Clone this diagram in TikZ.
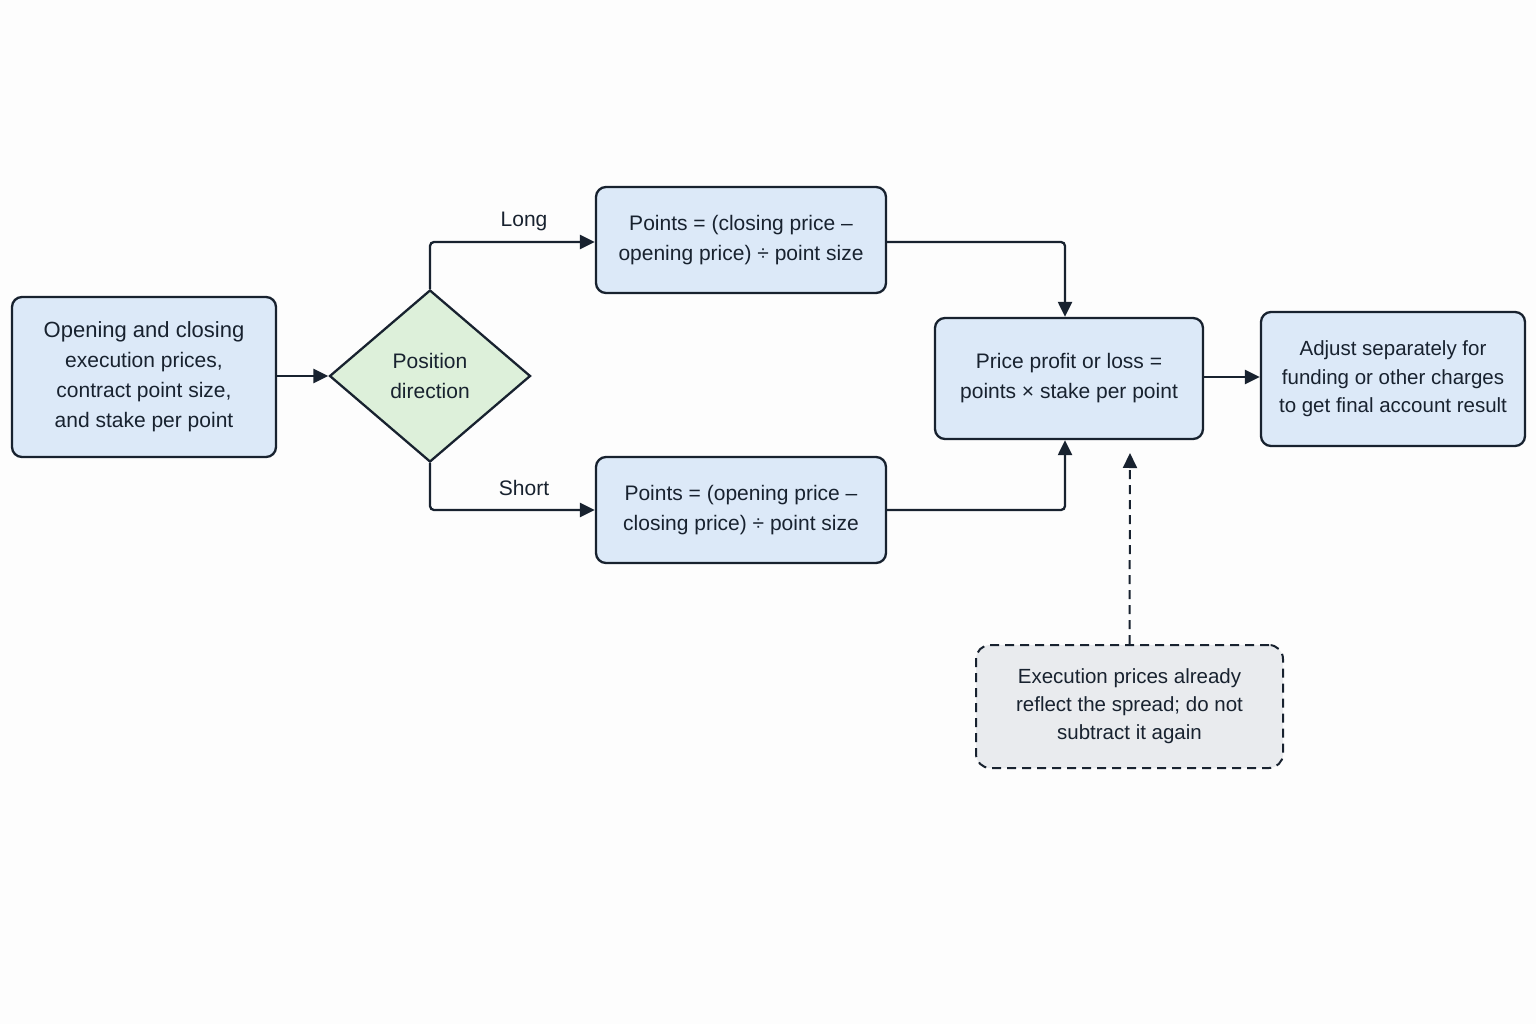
\documentclass[tikz,border=0pt]{standalone}
\usepackage{fontspec}
\setmainfont{Liberation Sans}
\usetikzlibrary{shapes.geometric,arrows.meta}
\definecolor{ink}{HTML}{18222F}
\definecolor{boxblue}{HTML}{DCE9F8}
\definecolor{boxgreen}{HTML}{DDF0DA}
\definecolor{boxgray}{HTML}{E9EBEE}
\definecolor{bg}{HTML}{FDFDFD}
\tikzset{
  proc/.style={draw=ink, line width=2.3pt, fill=boxblue, rounded corners=10pt, align=center,
    text=ink, font=\fontsize{21}{30}\selectfont, inner sep=0pt},
  decision/.style={draw=ink, line width=2.3pt, fill=boxgreen, diamond, align=center,
    text=ink, font=\fontsize{21}{30}\selectfont, inner sep=0pt},
  notebox/.style={draw=ink, line width=2pt, dash pattern=on 9pt off 6pt, fill=boxgray, rounded corners=14pt,
    align=center, text=ink, font=\fontsize{20.5}{28}\selectfont, inner sep=0pt},
  arr/.style={draw=ink, line width=2.3pt, rounded corners=4pt, -{Triangle[length=15pt,width=14pt]}},
  darr/.style={draw=ink, line width=2pt, dash pattern=on 9pt off 6pt, -{Triangle[length=15pt,width=14pt]}},
  lbl/.style={text=ink, font=\fontsize{21}{30}\selectfont, inner sep=0pt}
}
\begin{document}
\begin{tikzpicture}[x=1pt,y=-1pt]
\fill[bg] (0,0) rectangle (1536,1024);
\useasboundingbox (0,0) rectangle (1536,1024);

\node[proc, minimum width=264pt, minimum height=160pt] (in) at (144,377)
  {\fontsize{22}{30.5}\selectfont Opening and closing\\execution prices,\\contract point size,\\and stake per point};
\node[decision, minimum width=201pt, minimum height=172pt] (dia) at (430,376) {Position\\direction};
\node[proc, minimum width=290pt, minimum height=106pt] (long) at (741,240)
  {Points = (closing price –\\opening price) ÷ point size};
\node[proc, minimum width=290pt, minimum height=106pt] (short) at (741,510)
  {Points = (opening price –\\closing price) ÷ point size};
\node[proc, minimum width=268pt, minimum height=121pt] (pnl) at (1069,378.5)
  {Price profit or loss =\\points × stake per point};
\node[proc, minimum width=264pt, minimum height=134pt, font=\fontsize{20.5}{28.5}\selectfont] (final) at (1393,379)
  {Adjust separately for\\funding or other charges\\to get final account result};
\node[notebox, minimum width=307pt, minimum height=123pt] (note) at (1129.5,706.5)
  {Execution prices already\\reflect the spread; do not\\subtract it again};

\node[lbl] (llong) at (524,221) {Long};
\node[lbl] (lshort) at (524,488) {Short};

\coordinate (nt) at (1130,453);

\draw[arr] (dia.west -| in.east) -- (dia.west);
\draw[arr] (dia.north) |- ([yshift=-2pt]long.west);
\draw[arr] (dia.south) |- (short.west);
\draw[arr] ([yshift=-2pt]long.east) -| ([xshift=-4pt]pnl.north);
\draw[arr] (short.east) -| ([xshift=-4pt]pnl.south);
\draw[arr] ([yshift=1.5pt]pnl.east) -- ([yshift=1.5pt]pnl.east -| final.west);
\draw[darr] (note.north) -- (nt);
\end{tikzpicture}
\end{document}
